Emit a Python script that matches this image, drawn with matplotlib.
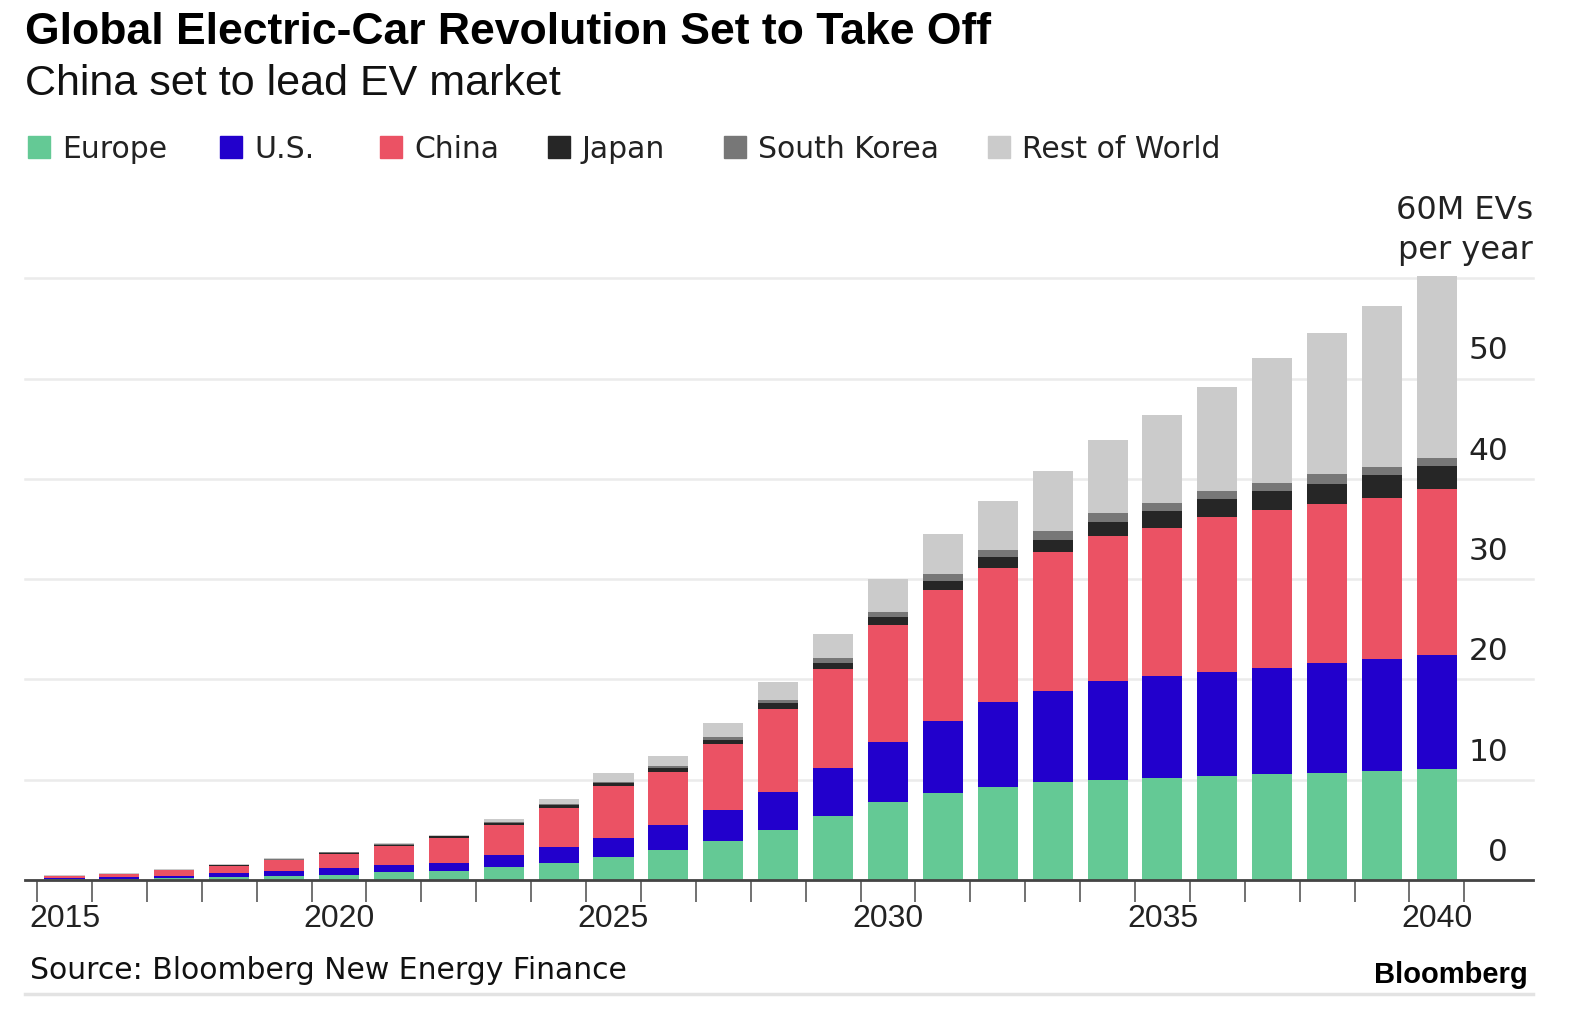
import matplotlib
matplotlib.use("Agg")
import matplotlib.pyplot as plt
import matplotlib.transforms as mtransforms
from matplotlib.patches import Rectangle
from matplotlib.lines import Line2D
import numpy as np

years = list(range(2015, 2041))
europe = [0.13, 0.13, 0.23, 0.33, 0.43, 0.53, 0.76, 0.86, 1.29, 1.72, 2.28, 3.0, 3.9, 5.0,
          6.35, 7.8, 8.7, 9.3, 9.8, 10.0, 10.2, 10.35, 10.6, 10.7, 10.9, 11.05]
us = [0.10, 0.13, 0.20, 0.33, 0.49, 0.66, 0.73, 0.86, 1.22, 1.53, 1.95, 2.47, 3.1, 3.8,
      4.85, 6.0, 7.2, 8.4, 9.0, 9.8, 10.1, 10.4, 10.5, 10.9, 11.1, 11.35]
china = [0.13, 0.30, 0.53, 0.73, 1.03, 1.45, 1.94, 2.50, 2.97, 3.97, 5.19, 5.26, 6.55, 8.2,
         9.8, 11.6, 13.0, 13.4, 13.9, 14.5, 14.8, 15.4, 15.8, 15.9, 16.1, 16.6]
japan = [0.05, 0.05, 0.06, 0.07, 0.08, 0.09, 0.10, 0.12, 0.20, 0.30, 0.30, 0.40, 0.45, 0.6,
         0.65, 0.8, 0.9, 1.1, 1.2, 1.4, 1.7, 1.85, 1.9, 2.0, 2.3, 2.3]
south_korea = [0.01, 0.02, 0.02, 0.03, 0.04, 0.04, 0.05, 0.06, 0.08, 0.10, 0.10, 0.2, 0.3, 0.3,
               0.45, 0.5, 0.7, 0.7, 0.9, 0.9, 0.8, 0.75, 0.8, 1.0, 0.8, 0.8]
rest_of_world = [0.04, 0.03, 0.05, 0.06, 0.08, 0.07, 0.08, 0.12, 0.28, 0.45, 0.8, 1.0, 1.4, 1.8,
                 2.4, 3.3, 4.0, 4.9, 6.0, 7.3, 8.8, 10.45, 12.4, 14.0, 16.0, 18.1]

series_names = ["Europe", "U.S.", "China", "Japan", "South Korea", "Rest of World"]
series = [europe, us, china, japan, south_korea, rest_of_world]
colors = ["#64C995", "#2200CC", "#EB5264", "#262626", "#777777", "#CBCBCB"]
ytick_vals = [0, 10, 20, 30, 40, 50]
year_labels = [2015, 2020, 2025, 2030, 2035, 2040]

FONT = "Liberation Sans"
WIDE = "DejaVu Sans"
W, H = 1582, 1034
fig = plt.figure(figsize=(W / 100, H / 100), dpi=100)

ax_left, ax_right = 25, 1533
y0_px, ytop = 880, 62.0
px_per_unit = 10.03
ax_top_px = y0_px - ytop * px_per_unit
ax = fig.add_axes([ax_left / W, (H - y0_px) / H, (ax_right - ax_left) / W,
                   (y0_px - ax_top_px) / H])

x = np.arange(len(years))
bottom = np.zeros(len(years))
for vals, c in zip(series, colors):
    v = np.array(vals)
    ax.bar(x, v, width=0.73, bottom=bottom, color=c, linewidth=0, zorder=3)
    bottom += v

ax.set_xlim(-0.72, 26.75)
ax.set_ylim(0, ytop)

for g in range(0, 70, 10):
    ax.axhline(g, color="#EBEBEB", linewidth=1.8, zorder=1, clip_on=False)

for s in ["top", "left", "right"]:
    ax.spines[s].set_visible(False)
ax.spines["bottom"].set_color("#444444")
ax.spines["bottom"].set_linewidth(2.0)
ax.spines["bottom"].set_zorder(5)

ax.set_yticks([])
ax.set_xticks(np.arange(-0.5, len(years), 1.0))
ax.set_xticklabels([])
ax.tick_params(axis="x", which="major", length=16, width=1.3, color="#666666", direction="out")
ax.set_xticks([years.index(y) for y in year_labels], minor=True)
ax.set_xticklabels([str(y) for y in year_labels], minor=True)
ax.tick_params(axis="x", which="minor", length=0, pad=17, labelsize=23, labelcolor="#222222")
for lab in ax.get_xticklabels(minor=True):
    lab.set_fontfamily(FONT)

trans = mtransforms.blended_transform_factory(ax.transAxes, ax.transData)
for v in ytick_vals:
    ax.text(0.9835, v + 1.9, str(v), transform=trans, ha="right", va="baseline",
            fontsize=22.5, color="#222222", family=WIDE)
ax.text(1.0, 65.9, "60M EVs", transform=trans, ha="right", va="baseline",
        fontsize=23, color="#222222", family=WIDE, clip_on=False)
ax.text(1.0, 61.9, "per year", transform=trans, ha="right", va="baseline",
        fontsize=23, color="#222222", family=WIDE, clip_on=False)

fig.text(25 / W, 1 - 44 / H, "Global Electric-Car Revolution Set to Take Off",
         fontsize=32, fontweight="bold", family=FONT, color="#000000", va="baseline")
fig.text(25 / W, 1 - 95 / H, "China set to lead EV market",
         fontsize=31, family=FONT, color="#111111", va="baseline")

leg_sq_x = [28, 220, 380, 548, 724, 988]
for name, c, sx in zip(series_names, colors, leg_sq_x):
    fig.patches.append(Rectangle((sx / W, 1 - 158 / H), 22 / W, 22 / H, color=c,
                                 transform=fig.transFigure, figure=fig))
    fig.text((sx + 34) / W, 1 - 158 / H, name, fontsize=21.5, family=WIDE,
             color="#222222", va="baseline")

fig.text(30 / W, 1 - 979 / H, "Source: Bloomberg New Energy Finance", fontsize=21.5,
         family=WIDE, color="#111111", va="baseline")
fig.text(1528 / W, 1 - 983 / H, "Bloomberg", fontsize=21, fontweight="bold",
         family=FONT, color="#000000", va="baseline", ha="right")
fig.lines.append(Line2D([25 / W, 1533 / W], [1 - 994 / H, 1 - 994 / H], color="#E3E3E3",
                        linewidth=2.5, transform=fig.transFigure))

fig.savefig("out.png", dpi=100, facecolor="white")
